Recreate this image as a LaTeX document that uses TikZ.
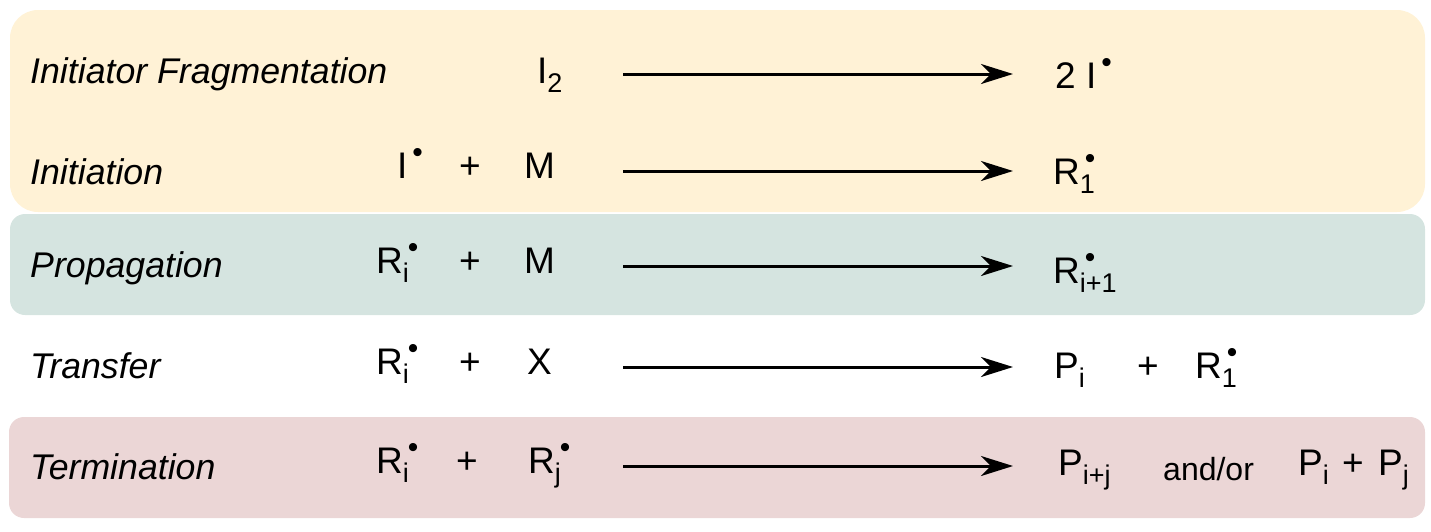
\documentclass[tikz,border=0pt]{standalone}
\usepackage{fontspec}
\setmainfont{Liberation Sans}
\usepackage{tikz}
\usetikzlibrary{arrows.meta}
\definecolor{initbg}{HTML}{FFF2D6}
\definecolor{propbg}{HTML}{D5E4E0}
\definecolor{termbg}{HTML}{EBD6D6}

% subscript and radical dot
\newcommand{\lo}[1]{\raisebox{-9pt}{\fontsize{27}{27}\selectfont #1}}
\newcommand{\dotr}{\raisebox{16pt}{\fontsize{30}{30}\selectfont\textbullet}}
\newcommand{\radi}[2]{#1\rlap{\hspace{5pt}\dotr}\lo{#2}}

\begin{document}
\begin{tikzpicture}[x=1pt, y=-1pt,
  every node/.style={inner sep=0pt, anchor=base west, font=\fontsize{37}{37}\selectfont},
  lbl/.style={font=\fontsize{35.7}{36}\selectfont\itshape},
  rxn/.style={line width=3pt, -{Stealth[length=32pt, width=20pt, inset=10pt]}}]
  \useasboundingbox (0,0) rectangle (1431,531);

  % coloured bands
  \fill[initbg] (10,10) [rounded corners=28pt] rectangle (1425,212);
  \fill[propbg] (10,214) [rounded corners=15pt] rectangle (1425,315);
  \fill[termbg] (9,417) [rounded corners=15pt] rectangle (1425,518);

  % row labels
  \node[lbl] (lfrag) at (30,83) {Initiator Fragmentation};
  \node[lbl] (linit) at (30,184) {Initiation};
  \node[lbl] (lprop) at (30,277) {Propagation};
  \node[lbl] (ltrans) at (30,378) {Transfer};
  \node[lbl] (lterm) at (30,479) {Termination};

  % reactants
  \node (i2) at (537,83) {I\lo{2}};
  \node (ia) at (397,178) {\radi{I}{}};
  \node (pa) at (459,178) {+};
  \node (ma) at (524,178) {M};
  \node (ra) at (376,273) {\radi{R}{i}};
  \node (pb) at (459,273) {+};
  \node (mb) at (524,273) {M};
  \node (rb) at (376,374) {\radi{R}{i}};
  \node (pc) at (459,374) {+};
  \node (xc) at (527,374) {X};
  \node (rc) at (376,473) {\radi{R}{i}};
  \node (pd) at (456,473) {+};
  \node (rd) at (528,473) {\radi{R}{j}};

  % products
  \node (frag) at (1055,88) {2 \radi{I}{}};
  \node (r1) at (1053,184) {\radi{R}{1}};
  \node (rn) at (1053,283) {\radi{R}{i+1}};
  \node (pi) at (1054,378) {P\lo{i}};
  \node (pe) at (1137,378) {+};
  \node (r1b) at (1195,378) {\radi{R}{1}};
  \node (pij) at (1058,475) {P\lo{i+j}};
  \node[font=\fontsize{32}{32}\selectfont] (andor) at (1163,480) {and/or};
  \node (pk) at (1298,475) {P\lo{i}};
  \node (pf) at (1342,475) {+};
  \node (pl) at (1378,475) {P\lo{j}};

  % reaction arrows
  \coordinate (s1) at (623,74);  \coordinate (e1) at (1013,74);
  \coordinate (s2) at (623,171); \coordinate (e2) at (1013,171);
  \coordinate (s3) at (623,266); \coordinate (e3) at (1013,266);
  \coordinate (s4) at (623,367); \coordinate (e4) at (1013,367);
  \coordinate (s5) at (623,466); \coordinate (e5) at (1013,466);
  \draw[rxn] (s1) -- (e1);
  \draw[rxn] (s2) -- (e2);
  \draw[rxn] (s3) -- (e3);
  \draw[rxn] (s4) -- (e4);
  \draw[rxn] (s5) -- (e5);
\end{tikzpicture}
\end{document}
